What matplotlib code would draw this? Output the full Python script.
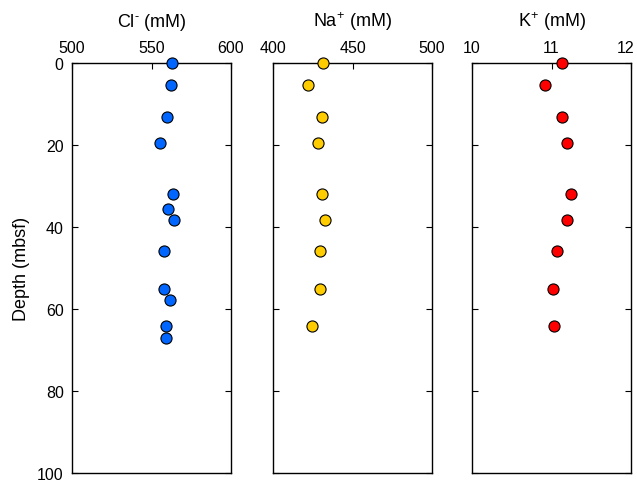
import matplotlib.pyplot as plt
import matplotlib.transforms as mtransforms
import numpy as np

plt.rcParams['font.family'] = ['Liberation Sans', 'DejaVu Sans']
plt.rcParams['mathtext.fontset'] = 'custom'
plt.rcParams['mathtext.rm'] = 'Liberation Sans'

# Cl data
cl_depth = [0, 5.3, 13.1, 19.5, 32.0, 35.6, 38.4, 45.8, 55.0, 57.7, 64.2, 67.0]
cl = [563.1, 562.5, 560.0, 555.3, 563.3, 560.6, 564.0, 557.9, 557.7, 561.8, 558.9, 558.9]

# Na and K data
nak_depth = [0, 5.3, 13.1, 19.5, 32.0, 38.4, 45.8, 55.0, 64.2]
na = [431.6, 421.8, 430.6, 428.5, 431.1, 432.4, 429.5, 429.8, 424.8]
k = [11.13, 10.92, 11.13, 11.19, 11.24, 11.19, 11.07, 11.02, 11.03]

fig = plt.figure(figsize=(6.37, 4.81), dpi=100)
lefts = [72/637, 273/637, 472/637]
w = 159/637
b = 7/481
h = 410/481

panels = [
    (cl_depth, cl, '#0066ff', r'Cl$^{\text{-}}$ (mM)', (500, 600), [500, 550, 600], ['500', '550', '600']),
    (nak_depth, na, '#ffcc00', r'Na$^{\mathrm{+}}$ (mM)', (400, 500), [400, 450, 500], ['400', '450', '500']),
    (nak_depth, k, '#ff0000', r'K$^{\mathrm{+}}$ (mM)', (10, 12), [10, 11, 12], ['10', '11', '12']),
]

for i, (d, v, col, lab, xl, xt, xtl) in enumerate(panels):
    ax = fig.add_axes([lefts[i], b, w, h])
    ax.plot(v, d, 'o', color=col, mec='black', mew=0.8, ms=8, clip_on=False, zorder=5)
    ax.set_xlim(*xl)
    ax.set_ylim(100, 0)
    ax.xaxis.tick_top()
    ax.xaxis.set_label_position('top')
    ax.set_xticks(xt)
    ax.set_xticklabels(xtl)
    ax.set_xlabel(lab, fontsize=13, labelpad=10)
    ax.set_yticks([0, 20, 40, 60, 80, 100])
    ax.tick_params(axis='x', direction='in', length=4, width=0.8, labelsize=11.5, pad=6)
    ax.tick_params(axis='y', direction='in', length=4, width=0.8, labelsize=11.5, right=True, pad=6)
    if i == 0:
        ax.set_ylabel('Depth (mbsf)', fontsize=13, labelpad=5)
    else:
        ax.set_yticklabels([])
    if i == 2:
        # last label sits a little inside the figure edge, as in the original
        lbl = ax.get_xticklabels()[-1]
        lbl.set_transform(lbl.get_transform() + mtransforms.ScaledTranslation(-5/100, 0, fig.dpi_scale_trans))
    for s in ax.spines.values():
        s.set_linewidth(1.0)

fig.savefig('out.png', dpi=100)
